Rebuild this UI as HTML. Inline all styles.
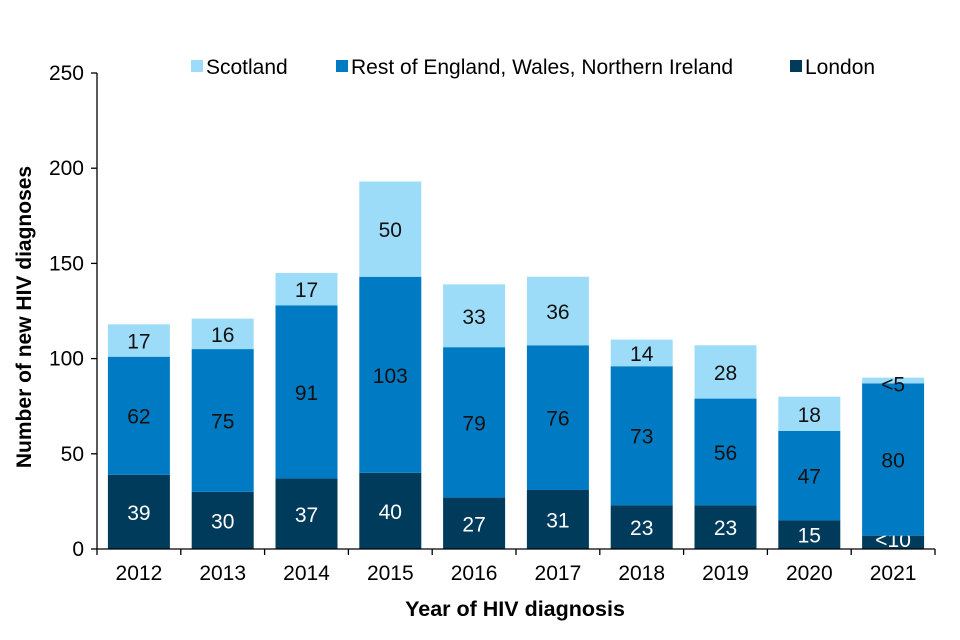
<!DOCTYPE html>
<html><head><meta charset="utf-8"><style>
body{margin:0;background:#fff;}
svg{display:block;font-family:"Liberation Sans",Arial,sans-serif;}
</style></head><body>
<svg id="chart" width="960" height="640" viewBox="0 0 960 640"></svg>
<script>
const years=["2012","2013","2014","2015","2016","2017","2018","2019","2020","2021"];
const london=[39,30,37,40,27,31,23,23,15,7];
const rest=[62,75,91,103,79,76,73,56,47,80];
const scotland=[17,16,17,50,33,36,14,28,18,3];
const londonLabels=["39","30","37","40","27","31","23","23","15","<10"];
const restLabels=["62","75","91","103","79","76","73","56","47","80"];
const scotlandLabels=["17","16","17","50","33","36","14","28","18","<5"];
const yTicks=[0,50,100,150,200,250];

const NS="http://www.w3.org/2000/svg";
const svg=document.getElementById("chart");
const x0=97,x1=935,yBase=549,yTop=73,yMax=250;
const band=(x1-x0)/years.length, bw=62;
const y=v=>yBase-(v/yMax)*(yBase-yTop);
const xc=i=>x0+band*(i+0.5);
function el(t,a,txt){const e=document.createElementNS(NS,t);for(const k in a)e.setAttribute(k,a[k]);if(txt!==undefined)e.textContent=txt;svg.appendChild(e);return e;}

const cols={london:"#003b5c",rest:"#007ac2",scot:"#9ddcf9"};
years.forEach((yr,i)=>{
  const segs=[[london[i],londonLabels[i],cols.london,"#fff","london"],[rest[i],restLabels[i],cols.rest,"#111","rest"],[scotland[i],scotlandLabels[i],cols.scot,"#111","scotland"]];
  let base=0;
  segs.forEach(s=>{
    const top=base+s[0];
    const r=el("rect",{x:xc(i)-bw/2,y:y(top),width:bw,height:y(base)-y(top),fill:s[2]});
    
    
    let ly=(y(base)+y(top))/2+8;
    if(s[4]==="scotland"&&s[0]<8) ly=y(top)+14;
    if(s[4]==="london"&&s[0]<10) ly=y(base)-2;
    const t=el("text",{x:xc(i),y:ly,"text-anchor":"middle","font-size":"21",fill:s[3]},s[1]);
    
    
    base=top;
  });
  const tk=el("line",{x1:x0+band*(i+1),x2:x0+band*(i+1),y1:yBase,y2:yBase+6,stroke:"#000","stroke-width":1.3});
  
  
  const xl=el("text",{x:xc(i),y:yBase+31,"text-anchor":"middle","font-size":"21",fill:"#000"},yr);
  
  
});
el("line",{x1:x0,x2:x0,y1:yTop,y2:yBase+6,stroke:"#000","stroke-width":1.3,});
el("line",{x1:x0,x2:x1,y1:yBase,y2:yBase,stroke:"#000","stroke-width":1.3,});
yTicks.forEach(v=>{
  const l=el("line",{x1:x0-6,x2:x0,y1:y(v),y2:y(v),stroke:"#000","stroke-width":1.3});
  
  
  const t=el("text",{x:x0-13,y:y(v)+7,"text-anchor":"end","font-size":"21",fill:"#000"},String(v));
  
  
});
el("text",{x:515,y:616,"text-anchor":"middle","font-size":"21.5","font-weight":"bold",},"Year of HIV diagnosis");
el("text",{x:0,y:0,"text-anchor":"middle","font-size":"21","font-weight":"bold",transform:"translate(31,317) rotate(-90)",},"Number of new HIV diagnoses");
const leg=[["Scotland",cols.scot,191],["Rest of England, Wales, Northern Ireland",cols.rest,336],["London",cols.london,790]];
leg.forEach(l=>{
  el("rect",{x:l[2],y:60,width:12,height:12,fill:l[1],});
  el("text",{x:l[2]+15,y:74,"font-size":"21",fill:"#000",},l[0]);
});
</script>
</body></html>
